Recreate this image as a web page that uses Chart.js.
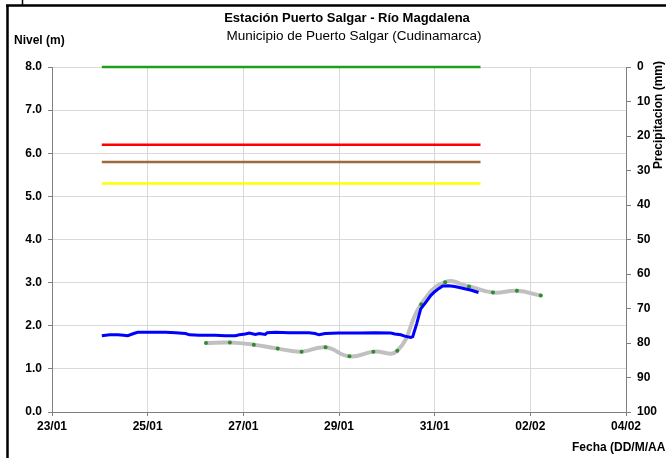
<!DOCTYPE html>
<html>
<head>
<meta charset="utf-8">
<script src="https://cdn.jsdelivr.net/npm/chart.js@4.4.0/dist/chart.umd.min.js"></script>
<style>
  body { margin: 0; background: #fff; }
</style>
</head>
<body>
<canvas id="grafica" width="666" height="458"></canvas>
<script>
// etiquetas del eje de fechas (cada 2 dias desde 23/01)
var fechasEje = ['23/01', '25/01', '27/01', '29/01', '31/01', '02/02', '04/02'];

// nivel observado (linea azul)
var nivelFechas = ['24/01 01:00', '24/01 05:00', '24/01 09:00', '24/01 12:00', '24/01 14:00', '24/01 17:00',
  '24/01 19:00', '25/01 01:00', '25/01 09:00', '25/01 14:00', '25/01 19:00', '25/01 21:00',
  '26/01 02:00', '26/01 10:00', '26/01 15:00', '26/01 20:00', '26/01 22:00', '27/01 01:00',
  '27/01 03:00', '27/01 06:00', '27/01 08:00', '27/01 11:00', '27/01 12:00', '27/01 16:00',
  '27/01 23:00', '28/01 09:00', '28/01 12:00', '28/01 14:00', '28/01 17:00', '29/01 00:00',
  '29/01 10:00', '29/01 18:00', '30/01 02:00', '30/01 04:00', '30/01 07:00', '30/01 09:00',
  '30/01 12:00', '30/01 13:00', '30/01 15:00', '30/01 17:00', '30/01 20:00', '30/01 22:00',
  '31/01 00:00', '31/01 02:00', '31/01 04:00', '31/01 07:00', '31/01 10:00', '31/01 13:00',
  '31/01 15:00', '31/01 18:00', '31/01 22:00'];
var nivelValores = [1.77, 1.79, 1.79, 1.78, 1.77, 1.82,
  1.85, 1.85, 1.85, 1.84, 1.82, 1.79,
  1.78, 1.78, 1.77, 1.77, 1.79, 1.81,
  1.83, 1.80, 1.82, 1.80, 1.84, 1.85,
  1.84, 1.84, 1.82, 1.79, 1.82, 1.83,
  1.83, 1.84, 1.83, 1.81, 1.79, 1.76,
  1.73, 1.75, 2.05, 2.39, 2.57, 2.70,
  2.79, 2.86, 2.92, 2.93, 2.91, 2.88,
  2.86, 2.83, 2.77];

// lecturas de mira (linea gris con puntos)
var miraFechas = ['26/01 05:15', '26/01 17:15', '27/01 05:15', '27/01 17:15', '28/01 05:15',
  '28/01 17:15', '29/01 05:15', '29/01 17:15', '30/01 05:15', '30/01 17:15',
  '31/01 05:15', '31/01 17:15', '01/02 05:15', '01/02 17:15', '02/02 05:15'];
var miraValores = [1.60, 1.61, 1.56, 1.47, 1.40, 1.50, 1.29, 1.40, 1.42, 2.50, 3.01, 2.91, 2.77, 2.81, 2.70];

// umbrales
var umbralFechas = ['24/01 01:00', '31/01 23:00'];
var umbralVerde = 8.0;
var umbralRojo = 6.2;
var umbralCafe = 5.8;
var umbralAmarillo = 5.3;

// dias desde el 23/01 00:00
function dias(s) {
  var p = s.split(/[\/ :]/);
  var d = parseInt(p[0], 10), m = parseInt(p[1], 10);
  var dia = (m == 2 ? d + 31 : d) - 23;
  return dia + (parseInt(p[2], 10) + parseInt(p[3], 10) / 60) / 24;
}
function puntos(fechas, valores) {
  var out = [];
  for (var i = 0; i < fechas.length; i++) {
    out.push({ x: dias(fechas[i]), y: valores[i] });
  }
  return out;
}
function umbral(v) {
  return puntos(umbralFechas, [v, v]);
}

var fuente = '"Liberation Sans", Arial, sans-serif';

var textos = {
  id: 'textos',
  afterDraw: function(chart) {
    var c = chart.ctx;
    c.save();
    // marco
    c.strokeStyle = '#000';
    c.lineWidth = 2.5;
    c.beginPath();
    c.moveTo(6, 5.5); c.lineTo(666, 5.5);
    c.moveTo(7.5, 5); c.lineTo(7.5, 458);
    c.stroke();
    c.lineWidth = 1.5;
    c.beginPath();
    c.moveTo(22.5, 0); c.lineTo(22.5, 5);
    c.stroke();

    c.fillStyle = '#000';
    c.textBaseline = 'middle';
    c.textAlign = 'center';
    c.font = 'bold 13px ' + fuente;
    c.fillText('Estación Puerto Salgar - Río Magdalena', 347, 18);
    c.font = '13.5px ' + fuente;
    c.fillText('Municipio de Puerto Salgar (Cudinamarca)', 354, 36);

    c.textAlign = 'left';
    c.font = 'bold 12px ' + fuente;
    c.fillText('Nivel (m)', 14, 41);
    c.fillText('Fecha (DD/M/AA', 572, 448);

    c.translate(659, 115);
    c.rotate(-Math.PI / 2);
    c.textAlign = 'center';
    c.fillText('Precipitacion (mm)', 0, 0);
    c.restore();
  }
};

var ctx = document.getElementById('grafica').getContext('2d');
var chart = new Chart(ctx, {
  type: 'line',
  data: {
    datasets: [
      { label: 'Nivel', data: puntos(nivelFechas, nivelValores), borderColor: '#0000ff', borderWidth: 3,
        pointRadius: 0, tension: 0, order: 1 },
      { label: 'Mira', data: puntos(miraFechas, miraValores), borderColor: '#c0c0c0', borderWidth: 4,
        pointRadius: 2, pointBorderWidth: 0, pointBackgroundColor: '#2e8b2e', tension: 0.45, order: 2 },
      { label: 'Verde', data: umbral(umbralVerde), borderColor: '#1f9e1f', borderWidth: 2.5, pointRadius: 0,
        clip: false, order: 3 },
      { label: 'Rojo', data: umbral(umbralRojo), borderColor: '#ff0000', borderWidth: 2.5, pointRadius: 0, order: 3 },
      { label: 'Cafe', data: umbral(umbralCafe), borderColor: '#9c6b3c', borderWidth: 2.5, pointRadius: 0, order: 3 },
      { label: 'Amarillo', data: umbral(umbralAmarillo), borderColor: '#ffff00', borderWidth: 2.5, pointRadius: 0, order: 3 }
    ]
  },
  options: {
    responsive: false,
    animation: false,
    layout: { padding: { top: 67, left: 0, right: 0, bottom: 0 } },
    plugins: { legend: { display: false }, tooltip: { enabled: false } },
    scales: {
      x: {
        type: 'linear', min: 0, max: 12,
        grid: { color: '#d9d9d9', tickColor: '#808080', tickLength: 4 },
        border: { color: '#808080' },
        ticks: {
          stepSize: 2, padding: 3, color: '#000', maxRotation: 0,
          font: { family: fuente, size: 12, weight: 'bold' },
          callback: function(v) { return fechasEje[v / 2]; }
        },
        afterFit: function(s) { s.height = 46; }
      },
      y: {
        position: 'left', min: 0, max: 8,
        grid: { color: '#d9d9d9', tickColor: '#808080', tickLength: 4 },
        border: { color: '#808080' },
        ticks: {
          stepSize: 1, padding: 6, color: '#000',
          font: { family: fuente, size: 12, weight: 'bold' },
          callback: function(v) { return v.toFixed(1); }
        },
        afterFit: function(s) { s.width = 52; }
      },
      y2: {
        position: 'right', min: 0, max: 100, reverse: true,
        grid: { drawOnChartArea: false, tickColor: '#808080', tickLength: 5 },
        border: { color: '#808080' },
        ticks: {
          stepSize: 10, padding: 6, color: '#000',
          font: { family: fuente, size: 12, weight: 'bold' }
        },
        afterFit: function(s) { s.width = 40; }
      }
    }
  },
  plugins: [textos]
});
</script>
</body>
</html>
